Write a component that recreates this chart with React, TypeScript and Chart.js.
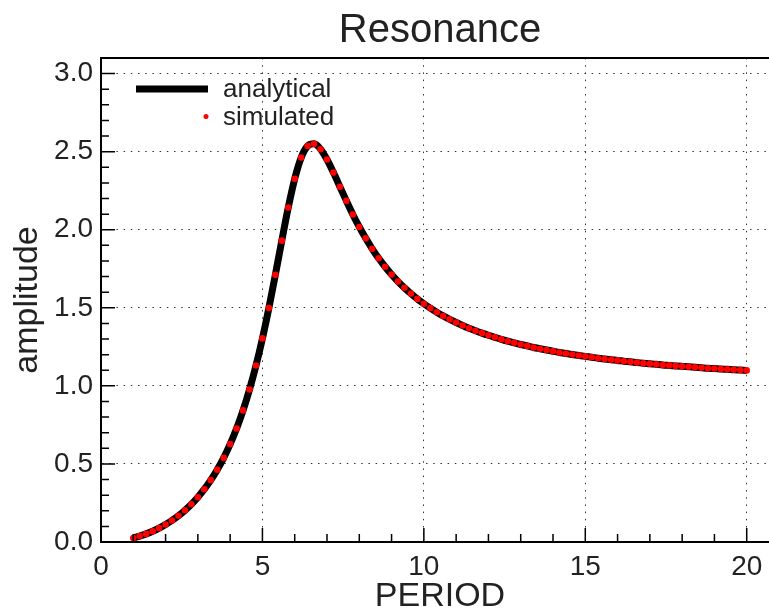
import React, { useEffect, useRef } from "react";
import { Chart, registerables } from "chart.js";

Chart.register(...registerables);

const FONT = "'Liberation Sans', Arial, Helvetica, sans-serif";

const chartTitle = "Resonance";
const xAxisTitle = "PERIOD";
const yAxisTitle = "amplitude";
const seriesLabels = ["analytical", "simulated"];

const xTickValues = [0, 5, 10, 15, 20];
const yTickValues = [0, 0.5, 1.0, 1.5, 2.0, 2.5, 3.0];

const periods = [
  1.0, 1.2, 1.4, 1.6, 1.8, 2.0, 2.2, 2.4, 2.6, 2.8,
  3.0, 3.2, 3.4, 3.6, 3.8, 4.0, 4.2, 4.4, 4.6, 4.8,
  5.0, 5.2, 5.4, 5.6, 5.8, 6.0, 6.2, 6.4, 6.6, 6.8,
  7.0, 7.2, 7.4, 7.6, 7.8, 8.0, 8.2, 8.4, 8.6, 8.8,
  9.0, 9.2, 9.4, 9.6, 9.8, 10.0, 10.2, 10.4, 10.6, 10.8,
  11.0, 11.2, 11.4, 11.6, 11.8, 12.0, 12.2, 12.4, 12.6, 12.8,
  13.0, 13.2, 13.4, 13.6, 13.8, 14.0, 14.2, 14.4, 14.6, 14.8,
  15.0, 15.2, 15.4, 15.6, 15.8, 16.0, 16.2, 16.4, 16.6, 16.8,
  17.0, 17.2, 17.4, 17.6, 17.8, 18.0, 18.2, 18.4, 18.6, 18.8,
  19.0, 19.2, 19.4, 19.6, 19.8, 20.0,
];

const analyticalAmplitude = [
  0.026, 0.038, 0.052, 0.069, 0.089, 0.112, 0.138, 0.168, 0.203, 0.242,
  0.287, 0.338, 0.396, 0.463, 0.539, 0.627, 0.727, 0.843, 0.977, 1.130,
  1.304, 1.499, 1.711, 1.930, 2.142, 2.326, 2.462, 2.536, 2.550, 2.516,
  2.450, 2.366, 2.275, 2.185, 2.098, 2.018, 1.945, 1.878, 1.817, 1.763,
  1.713, 1.668, 1.628, 1.591, 1.557, 1.526, 1.498, 1.472, 1.448, 1.426,
  1.406, 1.387, 1.369, 1.353, 1.338, 1.324, 1.311, 1.298, 1.286, 1.276,
  1.265, 1.256, 1.246, 1.238, 1.230, 1.222, 1.214, 1.207, 1.201, 1.195,
  1.189, 1.183, 1.177, 1.172, 1.167, 1.163, 1.158, 1.154, 1.149, 1.145,
  1.142, 1.138, 1.134, 1.131, 1.128, 1.125, 1.122, 1.119, 1.116, 1.113,
  1.111, 1.108, 1.106, 1.103, 1.101, 1.099,
];

const simulatedAmplitude = [
  0.026, 0.038, 0.052, 0.069, 0.089, 0.112, 0.138, 0.168, 0.203, 0.242,
  0.287, 0.338, 0.396, 0.463, 0.539, 0.627, 0.727, 0.843, 0.977, 1.130,
  1.304, 1.499, 1.711, 1.930, 2.142, 2.326, 2.462, 2.536, 2.550, 2.516,
  2.450, 2.366, 2.275, 2.185, 2.098, 2.018, 1.945, 1.878, 1.817, 1.763,
  1.713, 1.668, 1.628, 1.591, 1.557, 1.526, 1.498, 1.472, 1.448, 1.426,
  1.406, 1.387, 1.369, 1.353, 1.338, 1.324, 1.311, 1.298, 1.286, 1.276,
  1.265, 1.256, 1.246, 1.238, 1.230, 1.222, 1.214, 1.207, 1.201, 1.195,
  1.189, 1.183, 1.177, 1.172, 1.167, 1.163, 1.158, 1.154, 1.149, 1.145,
  1.142, 1.138, 1.134, 1.131, 1.128, 1.125, 1.122, 1.119, 1.116, 1.113,
  1.111, 1.108, 1.106, 1.103, 1.101, 1.099,
];

const X_MIN = 0;
const X_MAX = 21;
const Y_MIN = 0;
const Y_MAX = 3.1;

const framePlugin = {
  id: "frame",
  afterDraw(chart: any) {
    const { ctx, chartArea: ca, scales } = chart;
    const xs = scales.x;
    const ys = scales.y;
    ctx.save();
    // inward tick marks
    ctx.strokeStyle = "#000";
    ctx.lineWidth = 1.5;
    ctx.beginPath();
    for (let i = X_MIN; i <= X_MAX; i++) {
      const px = xs.getPixelForValue(i);
      const len = i % 5 === 0 ? 14 : 8;
      ctx.moveTo(px, ca.bottom);
      ctx.lineTo(px, ca.bottom - len);
    }
    for (let i = 0; i <= Math.round(Y_MAX * 10); i++) {
      const py = ys.getPixelForValue(i / 10);
      const len = i % 5 === 0 ? 14 : 8;
      ctx.moveTo(ca.left, py);
      ctx.lineTo(ca.left + len, py);
    }
    ctx.stroke();
    // top frame line
    ctx.lineWidth = 2;
    ctx.beginPath();
    ctx.moveTo(ca.left, ca.top);
    ctx.lineTo(ca.right, ca.top);
    ctx.stroke();

    // title
    ctx.fillStyle = "#222";
    ctx.font = `40px ${FONT}`;
    ctx.textAlign = "center";
    ctx.textBaseline = "alphabetic";
    ctx.fillText(chartTitle, (ca.left + ca.right) / 2, 42);

    // legend
    const ds = chart.data.datasets;
    const lx = ca.left + 35;
    ctx.font = `26px ${FONT}`;
    ctx.textAlign = "left";
    // analytical
    ctx.strokeStyle = ds[1].borderColor;
    ctx.lineWidth = 7;
    ctx.beginPath();
    ctx.moveTo(lx, 89);
    ctx.lineTo(lx + 72, 89);
    ctx.stroke();
    ctx.fillStyle = "#222";
    ctx.fillText(ds[1].label, lx + 87, 97);
    // simulated
    ctx.fillStyle = ds[0].backgroundColor;
    ctx.beginPath();
    ctx.arc(lx + 70, 116.5, 2.5, 0, Math.PI * 2);
    ctx.fill();
    ctx.fillStyle = "#222";
    ctx.fillText(ds[0].label, lx + 87, 125);
    ctx.restore();
  },
};

export default function App() {
  const ref = useRef<HTMLCanvasElement>(null);
  useEffect(() => {
    if (!ref.current) return;
    const analytical = periods.map((p, i) => ({ x: p, y: analyticalAmplitude[i] }));
    const simulated = periods.map((p, i) => ({ x: p, y: simulatedAmplitude[i] }));
    const chart = new Chart(ref.current, {
      type: "line",
      data: {
        datasets: [
          {
            label: seriesLabels[1],
            data: simulated,
            showLine: false,
            pointRadius: 3.3,
            pointBackgroundColor: "#ff0000",
            backgroundColor: "#ff0000",
            pointBorderWidth: 0,
            borderColor: "#ff0000",
            order: 0,
          },
          {
            label: seriesLabels[0],
            data: analytical,
            borderColor: "#000000",
            backgroundColor: "#000000",
            borderWidth: 7,
            pointRadius: 0,
            cubicInterpolationMode: "monotone",
            fill: false,
            order: 1,
          },
        ],
      },
      options: {
        responsive: false,
        animation: false,
        devicePixelRatio: 1,
        layout: { padding: { top: 58, right: 21, left: 0, bottom: 0 } },
        plugins: {
          legend: { display: false },
          title: { display: false },
          tooltip: { enabled: false },
        },
        scales: {
          x: {
            type: "linear",
            min: X_MIN,
            max: X_MAX,
            afterFit: (s: any) => {
              s.height = 73;
            },
            afterBuildTicks: (s: any) => {
              s.ticks = xTickValues.map((v) => ({ value: v }));
            },
            ticks: {
              font: { family: FONT, size: 28 },
              color: "#222",
              padding: 8,
              maxRotation: 0,
              autoSkip: false,
              callback: (v: any) => String(v),
            },
            grid: { color: "#333", lineWidth: 1, drawTicks: false },
            border: { display: true, color: "#000", width: 2, dash: [1.5, 5.7] },
            title: {
              display: true,
              text: xAxisTitle,
              color: "#222",
              font: { family: FONT, size: 34, lineHeight: 1 },
              padding: { top: 0, bottom: 1 },
            },
          },
          y: {
            type: "linear",
            min: Y_MIN,
            max: Y_MAX,
            afterFit: (s: any) => {
              s.width = 101;
            },
            afterBuildTicks: (s: any) => {
              s.ticks = yTickValues.map((v) => ({ value: v }));
            },
            ticks: {
              font: { family: FONT, size: 28 },
              color: "#222",
              padding: 8,
              autoSkip: false,
              callback: (v: any) => Number(v).toFixed(1),
            },
            grid: { color: "#333", lineWidth: 1, drawTicks: false },
            border: { display: true, color: "#000", width: 2, dash: [1.5, 5.7] },
            title: {
              display: true,
              text: yAxisTitle,
              color: "#222",
              font: { family: FONT, size: 34, lineHeight: 1 },
              padding: { top: 11, bottom: 0 },
            },
          },
        },
      },
      plugins: [framePlugin],
    } as any);
    return () => chart.destroy();
  }, []);

  return (
    <div
      style={{
        position: "fixed",
        left: 0,
        top: 0,
        width: 769,
        height: 615,
        overflow: "hidden",
        background: "#fff",
      }}
    >
      <canvas ref={ref} width={800} height={615} style={{ display: "block", width: 800, height: 615 }} />
    </div>
  );
}
